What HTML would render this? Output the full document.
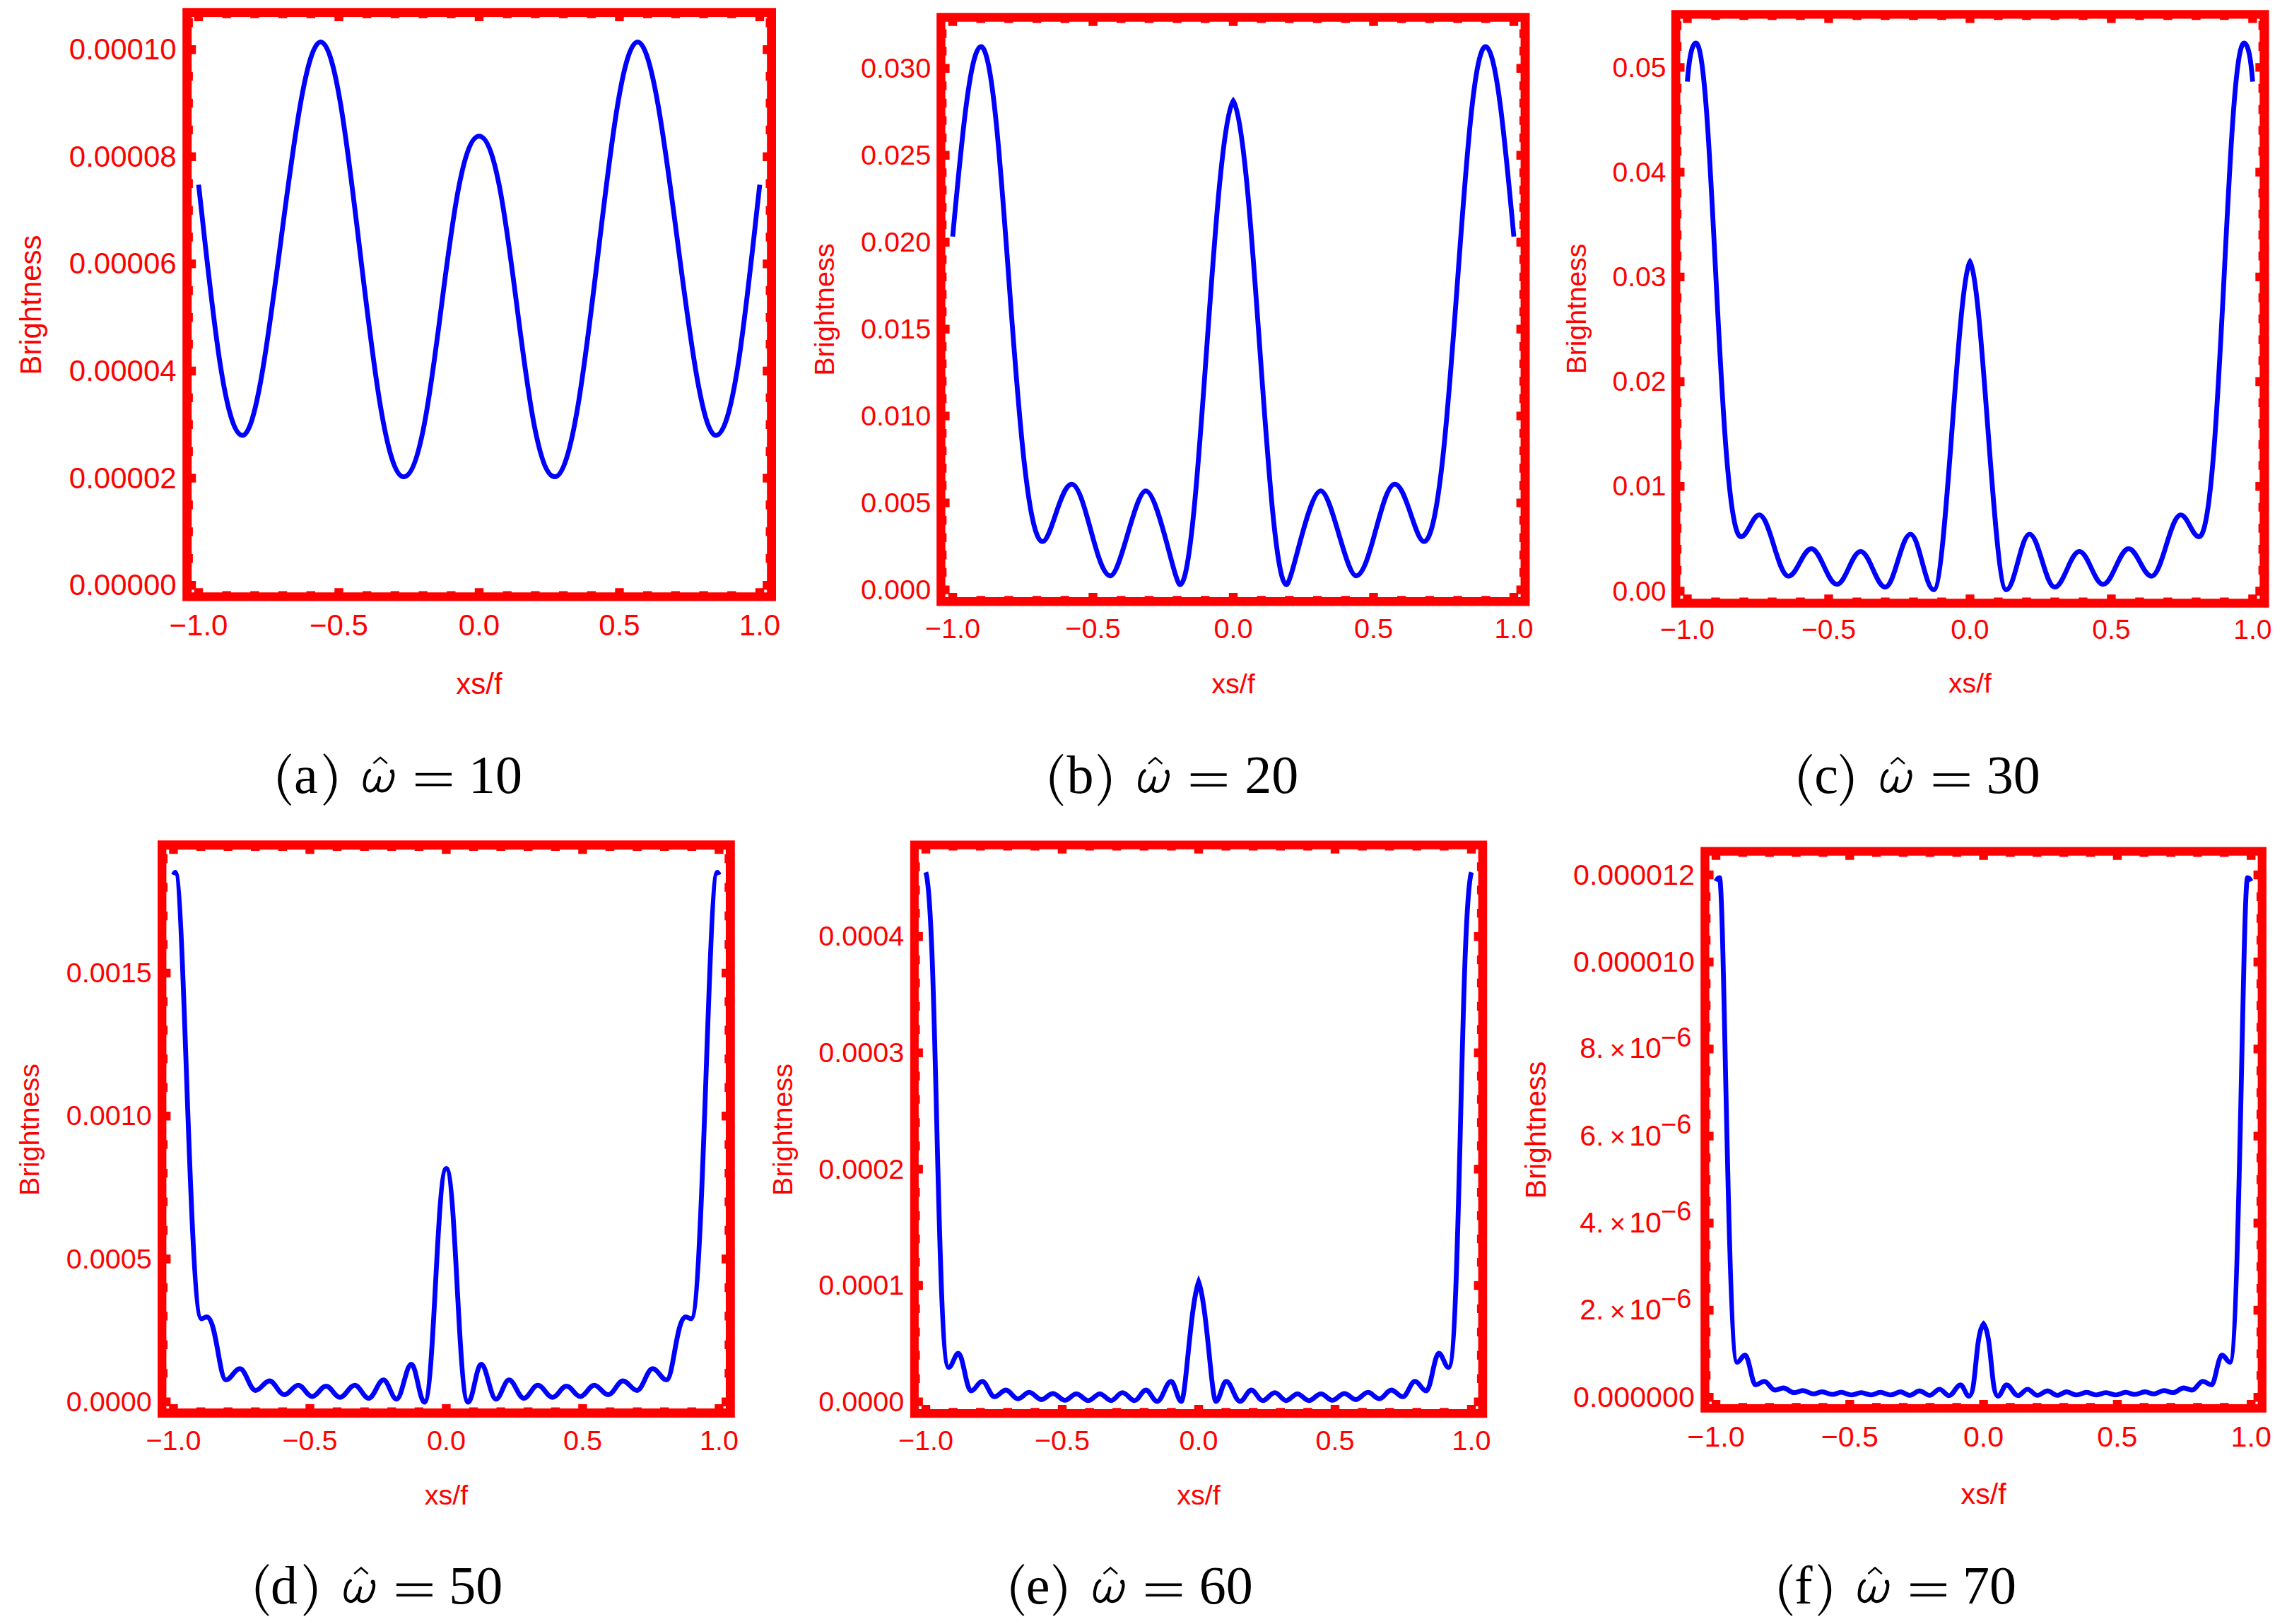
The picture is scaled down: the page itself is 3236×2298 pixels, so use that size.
<!DOCTYPE html>
<html><head><meta charset="utf-8"><style>
html,body{margin:0;padding:0;background:#fff;overflow:hidden}
svg{display:block}
.t{font-family:"Liberation Sans",sans-serif;font-size:42px;fill:#ff0000}
.s{font-family:"Liberation Serif",serif;fill:#000}
</style></head><body>
<svg width="3236" height="2298" viewBox="0 0 3236 2298" xmlns="http://www.w3.org/2000/svg">
<rect width="3236" height="2298" fill="#fff"/>
<path d="M258.2 11.2H1098V850.4H258.2Z M271.2 24V838.2H1085.2V24Z" fill="#ff0000" fill-rule="evenodd"/>
<path d="M274.8 832.2h12.4v7h-12.4ZM274.8 23h12.4v7h-12.4ZM473.3 832.2h12.4v7h-12.4ZM473.3 23h12.4v7h-12.4ZM671.8 832.2h12.4v7h-12.4ZM671.8 23h12.4v7h-12.4ZM870.3 832.2h12.4v7h-12.4ZM870.3 23h12.4v7h-12.4ZM1068.8 832.2h12.4v7h-12.4ZM1068.8 23h12.4v7h-12.4ZM270.2 822h7v12.4h-7ZM1079.2 822h7v12.4h-7ZM270.2 670.4h7v12.4h-7ZM1079.2 670.4h7v12.4h-7ZM270.2 518.8h7v12.4h-7ZM1079.2 518.8h7v12.4h-7ZM270.2 367.2h7v12.4h-7ZM1079.2 367.2h7v12.4h-7ZM270.2 215.6h7v12.4h-7ZM1079.2 215.6h7v12.4h-7ZM270.2 64h7v12.4h-7ZM1079.2 64h7v12.4h-7ZM314.5 836.5h12.4v2.7h-12.4ZM314.5 23h12.4v2.7h-12.4ZM354.2 836.5h12.4v2.7h-12.4ZM354.2 23h12.4v2.7h-12.4ZM393.9 836.5h12.4v2.7h-12.4ZM393.9 23h12.4v2.7h-12.4ZM433.6 836.5h12.4v2.7h-12.4ZM433.6 23h12.4v2.7h-12.4ZM513 836.5h12.4v2.7h-12.4ZM513 23h12.4v2.7h-12.4ZM552.7 836.5h12.4v2.7h-12.4ZM552.7 23h12.4v2.7h-12.4ZM592.4 836.5h12.4v2.7h-12.4ZM592.4 23h12.4v2.7h-12.4ZM632.1 836.5h12.4v2.7h-12.4ZM632.1 23h12.4v2.7h-12.4ZM711.5 836.5h12.4v2.7h-12.4ZM711.5 23h12.4v2.7h-12.4ZM751.2 836.5h12.4v2.7h-12.4ZM751.2 23h12.4v2.7h-12.4ZM790.9 836.5h12.4v2.7h-12.4ZM790.9 23h12.4v2.7h-12.4ZM830.6 836.5h12.4v2.7h-12.4ZM830.6 23h12.4v2.7h-12.4ZM910 836.5h12.4v2.7h-12.4ZM910 23h12.4v2.7h-12.4ZM949.7 836.5h12.4v2.7h-12.4ZM949.7 23h12.4v2.7h-12.4ZM989.4 836.5h12.4v2.7h-12.4ZM989.4 23h12.4v2.7h-12.4ZM1029.1 836.5h12.4v2.7h-12.4ZM1029.1 23h12.4v2.7h-12.4ZM270.2 784.1h2.7v12.4h-2.7ZM1083.5 784.1h2.7v12.4h-2.7ZM270.2 746.2h2.7v12.4h-2.7ZM1083.5 746.2h2.7v12.4h-2.7ZM270.2 708.3h2.7v12.4h-2.7ZM1083.5 708.3h2.7v12.4h-2.7ZM270.2 632.5h2.7v12.4h-2.7ZM1083.5 632.5h2.7v12.4h-2.7ZM270.2 594.6h2.7v12.4h-2.7ZM1083.5 594.6h2.7v12.4h-2.7ZM270.2 556.7h2.7v12.4h-2.7ZM1083.5 556.7h2.7v12.4h-2.7ZM270.2 480.9h2.7v12.4h-2.7ZM1083.5 480.9h2.7v12.4h-2.7ZM270.2 443h2.7v12.4h-2.7ZM1083.5 443h2.7v12.4h-2.7ZM270.2 405.1h2.7v12.4h-2.7ZM1083.5 405.1h2.7v12.4h-2.7ZM270.2 329.3h2.7v12.4h-2.7ZM1083.5 329.3h2.7v12.4h-2.7ZM270.2 291.4h2.7v12.4h-2.7ZM1083.5 291.4h2.7v12.4h-2.7ZM270.2 253.5h2.7v12.4h-2.7ZM1083.5 253.5h2.7v12.4h-2.7ZM270.2 177.7h2.7v12.4h-2.7ZM1083.5 177.7h2.7v12.4h-2.7ZM270.2 139.8h2.7v12.4h-2.7ZM1083.5 139.8h2.7v12.4h-2.7ZM270.2 101.9h2.7v12.4h-2.7ZM1083.5 101.9h2.7v12.4h-2.7ZM270.2 26.1h2.7v12.4h-2.7ZM1083.5 26.1h2.7v12.4h-2.7Z" fill="#ff0000"/>
<text x="249.64" y="842.27" text-anchor="end" class="t" style="font-size:42px">0.00000</text>
<text x="249.64" y="690.67" text-anchor="end" class="t" style="font-size:42px">0.00002</text>
<text x="249.64" y="539.07" text-anchor="end" class="t" style="font-size:42px">0.00004</text>
<text x="249.64" y="387.47" text-anchor="end" class="t" style="font-size:42px">0.00006</text>
<text x="249.64" y="235.87" text-anchor="end" class="t" style="font-size:42px">0.00008</text>
<text x="249.64" y="84.27" text-anchor="end" class="t" style="font-size:42px">0.00010</text>
<text x="281" y="899" text-anchor="middle" class="t" style="font-size:42px">−1.0</text>
<text x="479.5" y="899" text-anchor="middle" class="t" style="font-size:42px">−0.5</text>
<text x="678" y="899" text-anchor="middle" class="t" style="font-size:42px">0.0</text>
<text x="876.5" y="899" text-anchor="middle" class="t" style="font-size:42px">0.5</text>
<text x="1075" y="899" text-anchor="middle" class="t" style="font-size:42px">1.0</text>
<text x="678" y="982" text-anchor="middle" class="t" style="font-size:42px">xs/f</text>
<text transform="translate(58.4,431.6) rotate(-90)" text-anchor="middle" class="t" style="font-size:42px">Brightness</text>
<path d="M281.00 261.49C299.54 425.63 317.14 616.10 343.20 616.10C380.46 616.10 414.74 59.30 453.70 59.30C495.83 59.30 524.45 674.70 571.00 674.70C616.48 674.70 632.65 192.60 678.00 192.60C723.35 192.60 739.52 674.70 785.00 674.70C831.55 674.70 860.17 59.30 902.30 59.30C941.26 59.30 975.54 616.10 1012.80 616.10C1038.86 616.10 1056.46 425.63 1075.00 261.49" fill="none" stroke="#0000ff" stroke-width="6.8" stroke-linejoin="miter" stroke-miterlimit="10"/>
<path transform="translate(393.2,1121.8)" d="M17.4 -55.5C6.5 -45.5 0 -33 0 -18.6C0 -4.2 6.5 8.3 17.4 18.3L19.0 17.0C10.5 7.5 5.2 -4.7 5.2 -18.6C5.2 -32.5 10.5 -44.7 19.0 -54.2Z"/>
<path transform="translate(476.3,1121.8) scale(-1,1)" d="M17.4 -55.5C6.5 -45.5 0 -33 0 -18.6C0 -4.2 6.5 8.3 17.4 18.3L19.0 17.0C10.5 7.5 5.2 -4.7 5.2 -18.6C5.2 -32.5 10.5 -44.7 19.0 -54.2Z"/>
<text x="415.94" y="1121.8" class="s" font-size="76">a</text>
<g transform="translate(514,1121.8)"><path d="M9.04 -31.87C8.41 -31.23 6.26 -29.56 5.27 -27.99C4.27 -26.42 3.60 -24.30 3.05 -22.45C2.49 -20.60 2.16 -18.75 1.94 -16.91C1.72 -15.06 1.49 -13.21 1.72 -11.36C1.95 -9.52 2.09 -7.32 3.33 -5.82C4.56 -4.32 7.25 -2.59 9.15 -2.38C11.04 -2.18 13.21 -3.61 14.69 -4.60C16.17 -5.59 17.17 -7.10 18.02 -8.31C18.87 -9.53 19.49 -11.32 19.79 -11.92M23.12 -21.62C23.02 -21.20 22.81 -20.19 22.56 -19.12C22.31 -18.06 21.93 -16.63 21.62 -15.24C21.30 -13.86 20.89 -12.15 20.68 -10.81C20.46 -9.47 20.09 -8.41 20.34 -7.21C20.59 -6.01 21.13 -4.41 22.17 -3.60C23.22 -2.80 24.99 -2.38 26.61 -2.38C28.22 -2.38 30.26 -2.75 31.87 -3.60C33.49 -4.45 35.03 -5.82 36.31 -7.48C37.58 -9.15 38.66 -11.55 39.52 -13.58C40.38 -15.61 41.00 -17.74 41.46 -19.68C41.93 -21.62 42.25 -23.74 42.29 -25.22C42.34 -26.70 41.83 -27.99 41.74 -28.55" fill="none" stroke="#000" stroke-width="4.2" stroke-linecap="round" stroke-linejoin="round"/><circle cx="40.74" cy="-30.1" r="2.9"/></g>
<path d="M528.4 1080.3L538.1 1071.8L547.8 1080.3" fill="none" stroke="#000" stroke-width="2.5"/>
<rect x="588" y="1093.8" width="51" height="3.6"/>
<rect x="588" y="1108.8" width="51" height="3.6"/>
<text x="662.91" y="1121.8" class="s" font-size="76">10</text>
<path d="M1325.2 18.2H2164.5V857.5H1325.2Z M1337.6 30.8V845H2151.6V30.8Z" fill="#ff0000" fill-rule="evenodd"/>
<path d="M1341.8 839h12.4v7h-12.4ZM1341.8 29.8h12.4v7h-12.4ZM1540.3 839h12.4v7h-12.4ZM1540.3 29.8h12.4v7h-12.4ZM1738.8 839h12.4v7h-12.4ZM1738.8 29.8h12.4v7h-12.4ZM1937.3 839h12.4v7h-12.4ZM1937.3 29.8h12.4v7h-12.4ZM2135.8 839h12.4v7h-12.4ZM2135.8 29.8h12.4v7h-12.4ZM1336.6 828.4h7v12.4h-7ZM2145.6 828.4h7v12.4h-7ZM1336.6 705.43h7v12.4h-7ZM2145.6 705.43h7v12.4h-7ZM1336.6 582.47h7v12.4h-7ZM2145.6 582.47h7v12.4h-7ZM1336.6 459.5h7v12.4h-7ZM2145.6 459.5h7v12.4h-7ZM1336.6 336.53h7v12.4h-7ZM2145.6 336.53h7v12.4h-7ZM1336.6 213.57h7v12.4h-7ZM2145.6 213.57h7v12.4h-7ZM1336.6 90.6h7v12.4h-7ZM2145.6 90.6h7v12.4h-7ZM1381.5 843.3h12.4v2.7h-12.4ZM1381.5 29.8h12.4v2.7h-12.4ZM1421.2 843.3h12.4v2.7h-12.4ZM1421.2 29.8h12.4v2.7h-12.4ZM1460.9 843.3h12.4v2.7h-12.4ZM1460.9 29.8h12.4v2.7h-12.4ZM1500.6 843.3h12.4v2.7h-12.4ZM1500.6 29.8h12.4v2.7h-12.4ZM1580 843.3h12.4v2.7h-12.4ZM1580 29.8h12.4v2.7h-12.4ZM1619.7 843.3h12.4v2.7h-12.4ZM1619.7 29.8h12.4v2.7h-12.4ZM1659.4 843.3h12.4v2.7h-12.4ZM1659.4 29.8h12.4v2.7h-12.4ZM1699.1 843.3h12.4v2.7h-12.4ZM1699.1 29.8h12.4v2.7h-12.4ZM1778.5 843.3h12.4v2.7h-12.4ZM1778.5 29.8h12.4v2.7h-12.4ZM1818.2 843.3h12.4v2.7h-12.4ZM1818.2 29.8h12.4v2.7h-12.4ZM1857.9 843.3h12.4v2.7h-12.4ZM1857.9 29.8h12.4v2.7h-12.4ZM1897.6 843.3h12.4v2.7h-12.4ZM1897.6 29.8h12.4v2.7h-12.4ZM1977 843.3h12.4v2.7h-12.4ZM1977 29.8h12.4v2.7h-12.4ZM2016.7 843.3h12.4v2.7h-12.4ZM2016.7 29.8h12.4v2.7h-12.4ZM2056.4 843.3h12.4v2.7h-12.4ZM2056.4 29.8h12.4v2.7h-12.4ZM2096.1 843.3h12.4v2.7h-12.4ZM2096.1 29.8h12.4v2.7h-12.4ZM1336.6 803.81h2.7v12.4h-2.7ZM2149.9 803.81h2.7v12.4h-2.7ZM1336.6 779.21h2.7v12.4h-2.7ZM2149.9 779.21h2.7v12.4h-2.7ZM1336.6 754.62h2.7v12.4h-2.7ZM2149.9 754.62h2.7v12.4h-2.7ZM1336.6 730.03h2.7v12.4h-2.7ZM2149.9 730.03h2.7v12.4h-2.7ZM1336.6 680.84h2.7v12.4h-2.7ZM2149.9 680.84h2.7v12.4h-2.7ZM1336.6 656.25h2.7v12.4h-2.7ZM2149.9 656.25h2.7v12.4h-2.7ZM1336.6 631.65h2.7v12.4h-2.7ZM2149.9 631.65h2.7v12.4h-2.7ZM1336.6 607.06h2.7v12.4h-2.7ZM2149.9 607.06h2.7v12.4h-2.7ZM1336.6 557.87h2.7v12.4h-2.7ZM2149.9 557.87h2.7v12.4h-2.7ZM1336.6 533.28h2.7v12.4h-2.7ZM2149.9 533.28h2.7v12.4h-2.7ZM1336.6 508.69h2.7v12.4h-2.7ZM2149.9 508.69h2.7v12.4h-2.7ZM1336.6 484.09h2.7v12.4h-2.7ZM2149.9 484.09h2.7v12.4h-2.7ZM1336.6 434.91h2.7v12.4h-2.7ZM2149.9 434.91h2.7v12.4h-2.7ZM1336.6 410.31h2.7v12.4h-2.7ZM2149.9 410.31h2.7v12.4h-2.7ZM1336.6 385.72h2.7v12.4h-2.7ZM2149.9 385.72h2.7v12.4h-2.7ZM1336.6 361.13h2.7v12.4h-2.7ZM2149.9 361.13h2.7v12.4h-2.7ZM1336.6 311.94h2.7v12.4h-2.7ZM2149.9 311.94h2.7v12.4h-2.7ZM1336.6 287.35h2.7v12.4h-2.7ZM2149.9 287.35h2.7v12.4h-2.7ZM1336.6 262.75h2.7v12.4h-2.7ZM2149.9 262.75h2.7v12.4h-2.7ZM1336.6 238.16h2.7v12.4h-2.7ZM2149.9 238.16h2.7v12.4h-2.7ZM1336.6 188.97h2.7v12.4h-2.7ZM2149.9 188.97h2.7v12.4h-2.7ZM1336.6 164.38h2.7v12.4h-2.7ZM2149.9 164.38h2.7v12.4h-2.7ZM1336.6 139.79h2.7v12.4h-2.7ZM2149.9 139.79h2.7v12.4h-2.7ZM1336.6 115.19h2.7v12.4h-2.7ZM2149.9 115.19h2.7v12.4h-2.7ZM1336.6 66.01h2.7v12.4h-2.7ZM2149.9 66.01h2.7v12.4h-2.7ZM1336.6 41.41h2.7v12.4h-2.7ZM2149.9 41.41h2.7v12.4h-2.7Z" fill="#ff0000"/>
<text x="1317.25" y="847.9" text-anchor="end" class="t" style="font-size:39.7px">0.000</text>
<text x="1317.25" y="724.93" text-anchor="end" class="t" style="font-size:39.7px">0.005</text>
<text x="1317.25" y="601.97" text-anchor="end" class="t" style="font-size:39.7px">0.010</text>
<text x="1317.25" y="479" text-anchor="end" class="t" style="font-size:39.7px">0.015</text>
<text x="1317.25" y="356.03" text-anchor="end" class="t" style="font-size:39.7px">0.020</text>
<text x="1317.25" y="233.07" text-anchor="end" class="t" style="font-size:39.7px">0.025</text>
<text x="1317.25" y="110.1" text-anchor="end" class="t" style="font-size:39.7px">0.030</text>
<text x="1348" y="903" text-anchor="middle" class="t" style="font-size:39.7px">−1.0</text>
<text x="1546.5" y="903" text-anchor="middle" class="t" style="font-size:39.7px">−0.5</text>
<text x="1745" y="903" text-anchor="middle" class="t" style="font-size:39.7px">0.0</text>
<text x="1943.5" y="903" text-anchor="middle" class="t" style="font-size:39.7px">0.5</text>
<text x="2142" y="903" text-anchor="middle" class="t" style="font-size:39.7px">1.0</text>
<text x="1745" y="980.8" text-anchor="middle" class="t" style="font-size:39.7px">xs/f</text>
<text transform="translate(1180.4,438.1) rotate(-90)" text-anchor="middle" class="t" style="font-size:39.7px">Brightness</text>
<path d="M1348.00 334.72C1360.46 200.44 1372.91 66.00 1388.00 66.00C1420.45 66.00 1435.92 766.40 1475.10 766.40C1487.23 766.40 1500.55 685.20 1516.40 685.20C1535.31 685.20 1551.13 814.80 1571.10 814.80C1585.73 814.80 1605.86 694.70 1621.30 694.70C1638.16 694.70 1662.03 827.30 1669.70 827.30C1697.10 827.30 1716.27 185.90 1745.00 142.80C1773.73 185.90 1792.90 827.30 1820.30 827.30C1827.97 827.30 1851.84 694.70 1868.70 694.70C1884.14 694.70 1904.27 814.80 1918.90 814.80C1938.87 814.80 1954.69 685.20 1973.60 685.20C1989.45 685.20 2002.77 766.40 2014.90 766.40C2054.08 766.40 2069.55 66.00 2102.00 66.00C2117.09 66.00 2129.54 200.44 2142.00 334.72" fill="none" stroke="#0000ff" stroke-width="6.8" stroke-linejoin="miter" stroke-miterlimit="10"/>
<path transform="translate(1485.6,1122.3)" d="M17.4 -55.5C6.5 -45.5 0 -33 0 -18.6C0 -4.2 6.5 8.3 17.4 18.3L19.0 17.0C10.5 7.5 5.2 -4.7 5.2 -18.6C5.2 -32.5 10.5 -44.7 19.0 -54.2Z"/>
<path transform="translate(1572,1122.3) scale(-1,1)" d="M17.4 -55.5C6.5 -45.5 0 -33 0 -18.6C0 -4.2 6.5 8.3 17.4 18.3L19.0 17.0C10.5 7.5 5.2 -4.7 5.2 -18.6C5.2 -32.5 10.5 -44.7 19.0 -54.2Z"/>
<text x="1509.6" y="1122.3" class="s" font-size="76">b</text>
<g transform="translate(1610.6,1122.3)"><path d="M9.04 -31.87C8.41 -31.23 6.26 -29.56 5.27 -27.99C4.27 -26.42 3.60 -24.30 3.05 -22.45C2.49 -20.60 2.16 -18.75 1.94 -16.91C1.72 -15.06 1.49 -13.21 1.72 -11.36C1.95 -9.52 2.09 -7.32 3.33 -5.82C4.56 -4.32 7.25 -2.59 9.15 -2.38C11.04 -2.18 13.21 -3.61 14.69 -4.60C16.17 -5.59 17.17 -7.10 18.02 -8.31C18.87 -9.53 19.49 -11.32 19.79 -11.92M23.12 -21.62C23.02 -21.20 22.81 -20.19 22.56 -19.12C22.31 -18.06 21.93 -16.63 21.62 -15.24C21.30 -13.86 20.89 -12.15 20.68 -10.81C20.46 -9.47 20.09 -8.41 20.34 -7.21C20.59 -6.01 21.13 -4.41 22.17 -3.60C23.22 -2.80 24.99 -2.38 26.61 -2.38C28.22 -2.38 30.26 -2.75 31.87 -3.60C33.49 -4.45 35.03 -5.82 36.31 -7.48C37.58 -9.15 38.66 -11.55 39.52 -13.58C40.38 -15.61 41.00 -17.74 41.46 -19.68C41.93 -21.62 42.25 -23.74 42.29 -25.22C42.34 -26.70 41.83 -27.99 41.74 -28.55" fill="none" stroke="#000" stroke-width="4.2" stroke-linecap="round" stroke-linejoin="round"/><circle cx="40.74" cy="-30.1" r="2.9"/></g>
<path d="M1625 1080.8L1634.7 1072.3L1644.4 1080.8" fill="none" stroke="#000" stroke-width="2.5"/>
<rect x="1684.7" y="1094.3" width="51" height="3.6"/>
<rect x="1684.7" y="1109.3" width="51" height="3.6"/>
<text x="1761.16" y="1122.3" class="s" font-size="76">20</text>
<path d="M2364.8 14.2H3210.6V859.7H2364.8Z M2377.5 26.5V847.2H3197.3V26.5Z" fill="#ff0000" fill-rule="evenodd"/>
<path d="M2381.3 841.2h12.4v7h-12.4ZM2381.3 25.5h12.4v7h-12.4ZM2581.28 841.2h12.4v7h-12.4ZM2581.28 25.5h12.4v7h-12.4ZM2781.25 841.2h12.4v7h-12.4ZM2781.25 25.5h12.4v7h-12.4ZM2981.23 841.2h12.4v7h-12.4ZM2981.23 25.5h12.4v7h-12.4ZM3181.2 841.2h12.4v7h-12.4ZM3181.2 25.5h12.4v7h-12.4ZM2376.5 830.3h7v12.4h-7ZM3191.3 830.3h7v12.4h-7ZM2376.5 682.08h7v12.4h-7ZM3191.3 682.08h7v12.4h-7ZM2376.5 533.86h7v12.4h-7ZM3191.3 533.86h7v12.4h-7ZM2376.5 385.64h7v12.4h-7ZM3191.3 385.64h7v12.4h-7ZM2376.5 237.42h7v12.4h-7ZM3191.3 237.42h7v12.4h-7ZM2376.5 89.2h7v12.4h-7ZM3191.3 89.2h7v12.4h-7ZM2421.3 845.5h12.4v2.7h-12.4ZM2421.3 25.5h12.4v2.7h-12.4ZM2461.29 845.5h12.4v2.7h-12.4ZM2461.29 25.5h12.4v2.7h-12.4ZM2501.29 845.5h12.4v2.7h-12.4ZM2501.29 25.5h12.4v2.7h-12.4ZM2541.28 845.5h12.4v2.7h-12.4ZM2541.28 25.5h12.4v2.7h-12.4ZM2621.27 845.5h12.4v2.7h-12.4ZM2621.27 25.5h12.4v2.7h-12.4ZM2661.27 845.5h12.4v2.7h-12.4ZM2661.27 25.5h12.4v2.7h-12.4ZM2701.26 845.5h12.4v2.7h-12.4ZM2701.26 25.5h12.4v2.7h-12.4ZM2741.26 845.5h12.4v2.7h-12.4ZM2741.26 25.5h12.4v2.7h-12.4ZM2821.25 845.5h12.4v2.7h-12.4ZM2821.25 25.5h12.4v2.7h-12.4ZM2861.24 845.5h12.4v2.7h-12.4ZM2861.24 25.5h12.4v2.7h-12.4ZM2901.24 845.5h12.4v2.7h-12.4ZM2901.24 25.5h12.4v2.7h-12.4ZM2941.23 845.5h12.4v2.7h-12.4ZM2941.23 25.5h12.4v2.7h-12.4ZM3021.22 845.5h12.4v2.7h-12.4ZM3021.22 25.5h12.4v2.7h-12.4ZM3061.22 845.5h12.4v2.7h-12.4ZM3061.22 25.5h12.4v2.7h-12.4ZM3101.21 845.5h12.4v2.7h-12.4ZM3101.21 25.5h12.4v2.7h-12.4ZM3141.21 845.5h12.4v2.7h-12.4ZM3141.21 25.5h12.4v2.7h-12.4ZM2376.5 800.66h2.7v12.4h-2.7ZM3195.6 800.66h2.7v12.4h-2.7ZM2376.5 771.01h2.7v12.4h-2.7ZM3195.6 771.01h2.7v12.4h-2.7ZM2376.5 741.37h2.7v12.4h-2.7ZM3195.6 741.37h2.7v12.4h-2.7ZM2376.5 711.72h2.7v12.4h-2.7ZM3195.6 711.72h2.7v12.4h-2.7ZM2376.5 652.44h2.7v12.4h-2.7ZM3195.6 652.44h2.7v12.4h-2.7ZM2376.5 622.79h2.7v12.4h-2.7ZM3195.6 622.79h2.7v12.4h-2.7ZM2376.5 593.15h2.7v12.4h-2.7ZM3195.6 593.15h2.7v12.4h-2.7ZM2376.5 563.5h2.7v12.4h-2.7ZM3195.6 563.5h2.7v12.4h-2.7ZM2376.5 504.22h2.7v12.4h-2.7ZM3195.6 504.22h2.7v12.4h-2.7ZM2376.5 474.57h2.7v12.4h-2.7ZM3195.6 474.57h2.7v12.4h-2.7ZM2376.5 444.93h2.7v12.4h-2.7ZM3195.6 444.93h2.7v12.4h-2.7ZM2376.5 415.28h2.7v12.4h-2.7ZM3195.6 415.28h2.7v12.4h-2.7ZM2376.5 356h2.7v12.4h-2.7ZM3195.6 356h2.7v12.4h-2.7ZM2376.5 326.35h2.7v12.4h-2.7ZM3195.6 326.35h2.7v12.4h-2.7ZM2376.5 296.71h2.7v12.4h-2.7ZM3195.6 296.71h2.7v12.4h-2.7ZM2376.5 267.06h2.7v12.4h-2.7ZM3195.6 267.06h2.7v12.4h-2.7ZM2376.5 207.78h2.7v12.4h-2.7ZM3195.6 207.78h2.7v12.4h-2.7ZM2376.5 178.13h2.7v12.4h-2.7ZM3195.6 178.13h2.7v12.4h-2.7ZM2376.5 148.49h2.7v12.4h-2.7ZM3195.6 148.49h2.7v12.4h-2.7ZM2376.5 118.84h2.7v12.4h-2.7ZM3195.6 118.84h2.7v12.4h-2.7ZM2376.5 59.56h2.7v12.4h-2.7ZM3195.6 59.56h2.7v12.4h-2.7ZM2376.5 29.91h2.7v12.4h-2.7ZM3195.6 29.91h2.7v12.4h-2.7Z" fill="#ff0000"/>
<text x="2357.52" y="849.6" text-anchor="end" class="t" style="font-size:39.1px">0.00</text>
<text x="2357.52" y="701.38" text-anchor="end" class="t" style="font-size:39.1px">0.01</text>
<text x="2357.52" y="553.16" text-anchor="end" class="t" style="font-size:39.1px">0.02</text>
<text x="2357.52" y="404.94" text-anchor="end" class="t" style="font-size:39.1px">0.03</text>
<text x="2357.52" y="256.72" text-anchor="end" class="t" style="font-size:39.1px">0.04</text>
<text x="2357.52" y="108.5" text-anchor="end" class="t" style="font-size:39.1px">0.05</text>
<text x="2387.5" y="904" text-anchor="middle" class="t" style="font-size:39.1px">−1.0</text>
<text x="2587.47" y="904" text-anchor="middle" class="t" style="font-size:39.1px">−0.5</text>
<text x="2787.45" y="904" text-anchor="middle" class="t" style="font-size:39.1px">0.0</text>
<text x="2987.43" y="904" text-anchor="middle" class="t" style="font-size:39.1px">0.5</text>
<text x="3187.4" y="904" text-anchor="middle" class="t" style="font-size:39.1px">1.0</text>
<text x="2787.45" y="980.3" text-anchor="middle" class="t" style="font-size:39.1px">xs/f</text>
<text transform="translate(2244,437) rotate(-90)" text-anchor="middle" class="t" style="font-size:39.1px">Brightness</text>
<path d="M2387.50 115.51C2390.03 83.51 2393.71 61.00 2399.70 61.00C2424.31 61.00 2431.63 759.70 2463.30 759.70C2472.70 759.70 2479.80 728.70 2489.20 728.70C2504.23 728.70 2515.57 815.30 2530.60 815.30C2542.32 815.30 2551.18 776.50 2562.90 776.50C2576.04 776.50 2585.96 826.90 2599.10 826.90C2611.30 826.90 2620.50 780.40 2632.70 780.40C2645.37 780.40 2654.93 830.80 2667.60 830.80C2680.56 830.80 2690.34 755.80 2703.30 755.80C2715.24 755.80 2724.26 834.70 2736.20 834.70C2753.55 834.70 2769.76 396.83 2787.45 370.30C2805.14 396.83 2821.35 834.70 2838.70 834.70C2850.64 834.70 2859.66 755.80 2871.60 755.80C2884.56 755.80 2894.34 830.80 2907.30 830.80C2919.97 830.80 2929.53 780.40 2942.20 780.40C2954.40 780.40 2963.60 826.90 2975.80 826.90C2988.94 826.90 2998.86 776.50 3012.00 776.50C3023.72 776.50 3032.58 815.30 3044.30 815.30C3059.33 815.30 3070.67 728.70 3085.70 728.70C3095.10 728.70 3102.20 759.70 3111.60 759.70C3143.27 759.70 3150.59 61.00 3175.20 61.00C3181.19 61.00 3184.87 83.51 3187.40 115.51" fill="none" stroke="#0000ff" stroke-width="6.8" stroke-linejoin="miter" stroke-miterlimit="10"/>
<path transform="translate(2545.2,1122.3)" d="M17.4 -55.5C6.5 -45.5 0 -33 0 -18.6C0 -4.2 6.5 8.3 17.4 18.3L19.0 17.0C10.5 7.5 5.2 -4.7 5.2 -18.6C5.2 -32.5 10.5 -44.7 19.0 -54.2Z"/>
<path transform="translate(2622.2,1122.3) scale(-1,1)" d="M17.4 -55.5C6.5 -45.5 0 -33 0 -18.6C0 -4.2 6.5 8.3 17.4 18.3L19.0 17.0C10.5 7.5 5.2 -4.7 5.2 -18.6C5.2 -32.5 10.5 -44.7 19.0 -54.2Z"/>
<text x="2567.31" y="1122.3" class="s" font-size="76">c</text>
<g transform="translate(2661.2,1122.3)"><path d="M9.04 -31.87C8.41 -31.23 6.26 -29.56 5.27 -27.99C4.27 -26.42 3.60 -24.30 3.05 -22.45C2.49 -20.60 2.16 -18.75 1.94 -16.91C1.72 -15.06 1.49 -13.21 1.72 -11.36C1.95 -9.52 2.09 -7.32 3.33 -5.82C4.56 -4.32 7.25 -2.59 9.15 -2.38C11.04 -2.18 13.21 -3.61 14.69 -4.60C16.17 -5.59 17.17 -7.10 18.02 -8.31C18.87 -9.53 19.49 -11.32 19.79 -11.92M23.12 -21.62C23.02 -21.20 22.81 -20.19 22.56 -19.12C22.31 -18.06 21.93 -16.63 21.62 -15.24C21.30 -13.86 20.89 -12.15 20.68 -10.81C20.46 -9.47 20.09 -8.41 20.34 -7.21C20.59 -6.01 21.13 -4.41 22.17 -3.60C23.22 -2.80 24.99 -2.38 26.61 -2.38C28.22 -2.38 30.26 -2.75 31.87 -3.60C33.49 -4.45 35.03 -5.82 36.31 -7.48C37.58 -9.15 38.66 -11.55 39.52 -13.58C40.38 -15.61 41.00 -17.74 41.46 -19.68C41.93 -21.62 42.25 -23.74 42.29 -25.22C42.34 -26.70 41.83 -27.99 41.74 -28.55" fill="none" stroke="#000" stroke-width="4.2" stroke-linecap="round" stroke-linejoin="round"/><circle cx="40.74" cy="-30.1" r="2.9"/></g>
<path d="M2675.6 1080.8L2685.3 1072.3L2695 1080.8" fill="none" stroke="#000" stroke-width="2.5"/>
<rect x="2735.7" y="1094.3" width="50.9" height="3.6"/>
<rect x="2735.7" y="1109.3" width="50.9" height="3.6"/>
<text x="2810.85" y="1122.3" class="s" font-size="76">30</text>
<path d="M223 1189.2H1039.8V2005.9H223Z M235.4 1202.3V1993.1H1027V1202.3Z" fill="#ff0000" fill-rule="evenodd"/>
<path d="M239.3 1987.1h12.4v7h-12.4ZM239.3 1201.3h12.4v7h-12.4ZM432.28 1987.1h12.4v7h-12.4ZM432.28 1201.3h12.4v7h-12.4ZM625.25 1987.1h12.4v7h-12.4ZM625.25 1201.3h12.4v7h-12.4ZM818.22 1987.1h12.4v7h-12.4ZM818.22 1201.3h12.4v7h-12.4ZM1011.2 1987.1h12.4v7h-12.4ZM1011.2 1201.3h12.4v7h-12.4ZM234.4 1977.6h7v12.4h-7ZM1021 1977.6h7v12.4h-7ZM234.4 1775.3h7v12.4h-7ZM1021 1775.3h7v12.4h-7ZM234.4 1573h7v12.4h-7ZM1021 1573h7v12.4h-7ZM234.4 1370.7h7v12.4h-7ZM1021 1370.7h7v12.4h-7ZM277.89 1991.4h12.4v2.7h-12.4ZM277.89 1201.3h12.4v2.7h-12.4ZM316.49 1991.4h12.4v2.7h-12.4ZM316.49 1201.3h12.4v2.7h-12.4ZM355.09 1991.4h12.4v2.7h-12.4ZM355.09 1201.3h12.4v2.7h-12.4ZM393.68 1991.4h12.4v2.7h-12.4ZM393.68 1201.3h12.4v2.7h-12.4ZM470.87 1991.4h12.4v2.7h-12.4ZM470.87 1201.3h12.4v2.7h-12.4ZM509.46 1991.4h12.4v2.7h-12.4ZM509.46 1201.3h12.4v2.7h-12.4ZM548.06 1991.4h12.4v2.7h-12.4ZM548.06 1201.3h12.4v2.7h-12.4ZM586.65 1991.4h12.4v2.7h-12.4ZM586.65 1201.3h12.4v2.7h-12.4ZM663.85 1991.4h12.4v2.7h-12.4ZM663.85 1201.3h12.4v2.7h-12.4ZM702.44 1991.4h12.4v2.7h-12.4ZM702.44 1201.3h12.4v2.7h-12.4ZM741.03 1991.4h12.4v2.7h-12.4ZM741.03 1201.3h12.4v2.7h-12.4ZM779.63 1991.4h12.4v2.7h-12.4ZM779.63 1201.3h12.4v2.7h-12.4ZM856.82 1991.4h12.4v2.7h-12.4ZM856.82 1201.3h12.4v2.7h-12.4ZM895.41 1991.4h12.4v2.7h-12.4ZM895.41 1201.3h12.4v2.7h-12.4ZM934.01 1991.4h12.4v2.7h-12.4ZM934.01 1201.3h12.4v2.7h-12.4ZM972.6 1991.4h12.4v2.7h-12.4ZM972.6 1201.3h12.4v2.7h-12.4ZM234.4 1937.14h2.7v12.4h-2.7ZM1025.3 1937.14h2.7v12.4h-2.7ZM234.4 1896.68h2.7v12.4h-2.7ZM1025.3 1896.68h2.7v12.4h-2.7ZM234.4 1856.22h2.7v12.4h-2.7ZM1025.3 1856.22h2.7v12.4h-2.7ZM234.4 1815.76h2.7v12.4h-2.7ZM1025.3 1815.76h2.7v12.4h-2.7ZM234.4 1734.84h2.7v12.4h-2.7ZM1025.3 1734.84h2.7v12.4h-2.7ZM234.4 1694.38h2.7v12.4h-2.7ZM1025.3 1694.38h2.7v12.4h-2.7ZM234.4 1653.92h2.7v12.4h-2.7ZM1025.3 1653.92h2.7v12.4h-2.7ZM234.4 1613.46h2.7v12.4h-2.7ZM1025.3 1613.46h2.7v12.4h-2.7ZM234.4 1532.54h2.7v12.4h-2.7ZM1025.3 1532.54h2.7v12.4h-2.7ZM234.4 1492.08h2.7v12.4h-2.7ZM1025.3 1492.08h2.7v12.4h-2.7ZM234.4 1451.62h2.7v12.4h-2.7ZM1025.3 1451.62h2.7v12.4h-2.7ZM234.4 1411.16h2.7v12.4h-2.7ZM1025.3 1411.16h2.7v12.4h-2.7ZM234.4 1330.24h2.7v12.4h-2.7ZM1025.3 1330.24h2.7v12.4h-2.7ZM234.4 1289.78h2.7v12.4h-2.7ZM1025.3 1289.78h2.7v12.4h-2.7ZM234.4 1249.32h2.7v12.4h-2.7ZM1025.3 1249.32h2.7v12.4h-2.7ZM234.4 1208.86h2.7v12.4h-2.7ZM1025.3 1208.86h2.7v12.4h-2.7Z" fill="#ff0000"/>
<text x="214.74" y="1997.07" text-anchor="end" class="t" style="font-size:39.6px">0.0000</text>
<text x="214.74" y="1794.77" text-anchor="end" class="t" style="font-size:39.6px">0.0005</text>
<text x="214.74" y="1592.47" text-anchor="end" class="t" style="font-size:39.6px">0.0010</text>
<text x="214.74" y="1390.17" text-anchor="end" class="t" style="font-size:39.6px">0.0015</text>
<text x="245.5" y="2051.6" text-anchor="middle" class="t" style="font-size:39.6px">−1.0</text>
<text x="438.48" y="2051.6" text-anchor="middle" class="t" style="font-size:39.6px">−0.5</text>
<text x="631.45" y="2051.6" text-anchor="middle" class="t" style="font-size:39.6px">0.0</text>
<text x="824.42" y="2051.6" text-anchor="middle" class="t" style="font-size:39.6px">0.5</text>
<text x="1017.4" y="2051.6" text-anchor="middle" class="t" style="font-size:39.6px">1.0</text>
<text x="631.45" y="2129.3" text-anchor="middle" class="t" style="font-size:39.6px">xs/f</text>
<text transform="translate(55.4,1598.4) rotate(-90)" text-anchor="middle" class="t" style="font-size:39.6px">Brightness</text>
<path d="M245.50 1237.95C246.29 1235.94 247.11 1234.50 248.00 1234.50C260.70 1234.50 268.03 1866.00 285.00 1866.00C287.72 1866.00 289.78 1863.50 292.50 1863.50C305.87 1863.50 310.36 1952.70 319.70 1952.70C326.85 1952.70 332.25 1936.70 339.40 1936.70C347.46 1936.70 353.54 1967.50 361.60 1967.50C368.75 1967.50 374.15 1954.00 381.30 1954.00C388.92 1954.00 394.68 1973.60 402.30 1973.60C409.45 1973.60 414.85 1960.10 422.00 1960.10C429.15 1960.10 434.55 1976.10 441.70 1976.10C448.85 1976.10 454.25 1961.30 461.40 1961.30C468.55 1961.30 473.95 1977.30 481.10 1977.30C488.69 1977.30 494.41 1960.10 502.00 1960.10C509.15 1960.10 514.55 1978.60 521.70 1978.60C529.32 1978.60 535.08 1952.70 542.70 1952.70C549.38 1952.70 554.42 1979.80 561.10 1979.80C568.72 1979.80 574.48 1930.50 582.10 1930.50C588.78 1930.50 593.82 1984.20 600.50 1984.20C614.26 1984.20 618.10 1653.50 631.45 1653.50C644.80 1653.50 648.64 1984.20 662.40 1984.20C669.08 1984.20 674.12 1930.50 680.80 1930.50C688.42 1930.50 694.18 1979.80 701.80 1979.80C708.48 1979.80 713.52 1952.70 720.20 1952.70C727.82 1952.70 733.58 1978.60 741.20 1978.60C748.35 1978.60 753.75 1960.10 760.90 1960.10C768.49 1960.10 774.21 1977.30 781.80 1977.30C788.95 1977.30 794.35 1961.30 801.50 1961.30C808.65 1961.30 814.05 1976.10 821.20 1976.10C828.35 1976.10 833.75 1960.10 840.90 1960.10C848.05 1960.10 853.45 1973.60 860.60 1973.60C868.22 1973.60 873.98 1954.00 881.60 1954.00C888.75 1954.00 894.15 1967.50 901.30 1967.50C909.36 1967.50 915.44 1936.70 923.50 1936.70C930.65 1936.70 936.05 1952.70 943.20 1952.70C952.54 1952.70 957.03 1863.50 970.40 1863.50C973.12 1863.50 975.18 1866.00 977.90 1866.00C994.87 1866.00 1002.20 1234.50 1014.90 1234.50C1015.79 1234.50 1016.61 1235.94 1017.40 1237.95" fill="none" stroke="#0000ff" stroke-width="6.8" stroke-linejoin="miter" stroke-miterlimit="10"/>
<path transform="translate(361.7,2268.5)" d="M17.4 -55.5C6.5 -45.5 0 -33 0 -18.6C0 -4.2 6.5 8.3 17.4 18.3L19.0 17.0C10.5 7.5 5.2 -4.7 5.2 -18.6C5.2 -32.5 10.5 -44.7 19.0 -54.2Z"/>
<path transform="translate(448.3,2268.5) scale(-1,1)" d="M17.4 -55.5C6.5 -45.5 0 -33 0 -18.6C0 -4.2 6.5 8.3 17.4 18.3L19.0 17.0C10.5 7.5 5.2 -4.7 5.2 -18.6C5.2 -32.5 10.5 -44.7 19.0 -54.2Z"/>
<text x="383.06" y="2268.5" class="s" font-size="76">d</text>
<g transform="translate(486.8,2268.5)"><path d="M9.04 -31.87C8.41 -31.23 6.26 -29.56 5.27 -27.99C4.27 -26.42 3.60 -24.30 3.05 -22.45C2.49 -20.60 2.16 -18.75 1.94 -16.91C1.72 -15.06 1.49 -13.21 1.72 -11.36C1.95 -9.52 2.09 -7.32 3.33 -5.82C4.56 -4.32 7.25 -2.59 9.15 -2.38C11.04 -2.18 13.21 -3.61 14.69 -4.60C16.17 -5.59 17.17 -7.10 18.02 -8.31C18.87 -9.53 19.49 -11.32 19.79 -11.92M23.12 -21.62C23.02 -21.20 22.81 -20.19 22.56 -19.12C22.31 -18.06 21.93 -16.63 21.62 -15.24C21.30 -13.86 20.89 -12.15 20.68 -10.81C20.46 -9.47 20.09 -8.41 20.34 -7.21C20.59 -6.01 21.13 -4.41 22.17 -3.60C23.22 -2.80 24.99 -2.38 26.61 -2.38C28.22 -2.38 30.26 -2.75 31.87 -3.60C33.49 -4.45 35.03 -5.82 36.31 -7.48C37.58 -9.15 38.66 -11.55 39.52 -13.58C40.38 -15.61 41.00 -17.74 41.46 -19.68C41.93 -21.62 42.25 -23.74 42.29 -25.22C42.34 -26.70 41.83 -27.99 41.74 -28.55" fill="none" stroke="#000" stroke-width="4.2" stroke-linecap="round" stroke-linejoin="round"/><circle cx="40.74" cy="-30.1" r="2.9"/></g>
<path d="M501.2 2227L510.9 2218.5L520.6 2227" fill="none" stroke="#000" stroke-width="2.5"/>
<rect x="560.9" y="2240.5" width="50.9" height="3.6"/>
<rect x="560.9" y="2255.5" width="50.9" height="3.6"/>
<text x="635.29" y="2268.5" class="s" font-size="76">50</text>
<path d="M1287.9 1189.4H2104.2V2006.2H1287.9Z M1299.9 1201.7V1993.9H2091.6V1201.7Z" fill="#ff0000" fill-rule="evenodd"/>
<path d="M1303.8 1987.9h12.4v7h-12.4ZM1303.8 1200.7h12.4v7h-12.4ZM1496.8 1987.9h12.4v7h-12.4ZM1496.8 1200.7h12.4v7h-12.4ZM1689.8 1987.9h12.4v7h-12.4ZM1689.8 1200.7h12.4v7h-12.4ZM1882.8 1987.9h12.4v7h-12.4ZM1882.8 1200.7h12.4v7h-12.4ZM2075.8 1987.9h12.4v7h-12.4ZM2075.8 1200.7h12.4v7h-12.4ZM1298.9 1977.4h7v12.4h-7ZM2085.6 1977.4h7v12.4h-7ZM1298.9 1812.8h7v12.4h-7ZM2085.6 1812.8h7v12.4h-7ZM1298.9 1648.2h7v12.4h-7ZM2085.6 1648.2h7v12.4h-7ZM1298.9 1483.6h7v12.4h-7ZM2085.6 1483.6h7v12.4h-7ZM1298.9 1319h7v12.4h-7ZM2085.6 1319h7v12.4h-7ZM1342.4 1992.2h12.4v2.7h-12.4ZM1342.4 1200.7h12.4v2.7h-12.4ZM1381 1992.2h12.4v2.7h-12.4ZM1381 1200.7h12.4v2.7h-12.4ZM1419.6 1992.2h12.4v2.7h-12.4ZM1419.6 1200.7h12.4v2.7h-12.4ZM1458.2 1992.2h12.4v2.7h-12.4ZM1458.2 1200.7h12.4v2.7h-12.4ZM1535.4 1992.2h12.4v2.7h-12.4ZM1535.4 1200.7h12.4v2.7h-12.4ZM1574 1992.2h12.4v2.7h-12.4ZM1574 1200.7h12.4v2.7h-12.4ZM1612.6 1992.2h12.4v2.7h-12.4ZM1612.6 1200.7h12.4v2.7h-12.4ZM1651.2 1992.2h12.4v2.7h-12.4ZM1651.2 1200.7h12.4v2.7h-12.4ZM1728.4 1992.2h12.4v2.7h-12.4ZM1728.4 1200.7h12.4v2.7h-12.4ZM1767 1992.2h12.4v2.7h-12.4ZM1767 1200.7h12.4v2.7h-12.4ZM1805.6 1992.2h12.4v2.7h-12.4ZM1805.6 1200.7h12.4v2.7h-12.4ZM1844.2 1992.2h12.4v2.7h-12.4ZM1844.2 1200.7h12.4v2.7h-12.4ZM1921.4 1992.2h12.4v2.7h-12.4ZM1921.4 1200.7h12.4v2.7h-12.4ZM1960 1992.2h12.4v2.7h-12.4ZM1960 1200.7h12.4v2.7h-12.4ZM1998.6 1992.2h12.4v2.7h-12.4ZM1998.6 1200.7h12.4v2.7h-12.4ZM2037.2 1992.2h12.4v2.7h-12.4ZM2037.2 1200.7h12.4v2.7h-12.4ZM1298.9 1944.48h2.7v12.4h-2.7ZM2089.9 1944.48h2.7v12.4h-2.7ZM1298.9 1911.56h2.7v12.4h-2.7ZM2089.9 1911.56h2.7v12.4h-2.7ZM1298.9 1878.64h2.7v12.4h-2.7ZM2089.9 1878.64h2.7v12.4h-2.7ZM1298.9 1845.72h2.7v12.4h-2.7ZM2089.9 1845.72h2.7v12.4h-2.7ZM1298.9 1779.88h2.7v12.4h-2.7ZM2089.9 1779.88h2.7v12.4h-2.7ZM1298.9 1746.96h2.7v12.4h-2.7ZM2089.9 1746.96h2.7v12.4h-2.7ZM1298.9 1714.04h2.7v12.4h-2.7ZM2089.9 1714.04h2.7v12.4h-2.7ZM1298.9 1681.12h2.7v12.4h-2.7ZM2089.9 1681.12h2.7v12.4h-2.7ZM1298.9 1615.28h2.7v12.4h-2.7ZM2089.9 1615.28h2.7v12.4h-2.7ZM1298.9 1582.36h2.7v12.4h-2.7ZM2089.9 1582.36h2.7v12.4h-2.7ZM1298.9 1549.44h2.7v12.4h-2.7ZM2089.9 1549.44h2.7v12.4h-2.7ZM1298.9 1516.52h2.7v12.4h-2.7ZM2089.9 1516.52h2.7v12.4h-2.7ZM1298.9 1450.68h2.7v12.4h-2.7ZM2089.9 1450.68h2.7v12.4h-2.7ZM1298.9 1417.76h2.7v12.4h-2.7ZM2089.9 1417.76h2.7v12.4h-2.7ZM1298.9 1384.84h2.7v12.4h-2.7ZM2089.9 1384.84h2.7v12.4h-2.7ZM1298.9 1351.92h2.7v12.4h-2.7ZM2089.9 1351.92h2.7v12.4h-2.7ZM1298.9 1286.08h2.7v12.4h-2.7ZM2089.9 1286.08h2.7v12.4h-2.7ZM1298.9 1253.16h2.7v12.4h-2.7ZM2089.9 1253.16h2.7v12.4h-2.7ZM1298.9 1220.24h2.7v12.4h-2.7ZM2089.9 1220.24h2.7v12.4h-2.7Z" fill="#ff0000"/>
<text x="1279.34" y="1996.87" text-anchor="end" class="t" style="font-size:39.6px">0.0000</text>
<text x="1279.34" y="1832.27" text-anchor="end" class="t" style="font-size:39.6px">0.0001</text>
<text x="1279.34" y="1667.67" text-anchor="end" class="t" style="font-size:39.6px">0.0002</text>
<text x="1279.34" y="1503.07" text-anchor="end" class="t" style="font-size:39.6px">0.0003</text>
<text x="1279.34" y="1338.47" text-anchor="end" class="t" style="font-size:39.6px">0.0004</text>
<text x="1310" y="2051.6" text-anchor="middle" class="t" style="font-size:39.6px">−1.0</text>
<text x="1503" y="2051.6" text-anchor="middle" class="t" style="font-size:39.6px">−0.5</text>
<text x="1696" y="2051.6" text-anchor="middle" class="t" style="font-size:39.6px">0.0</text>
<text x="1889" y="2051.6" text-anchor="middle" class="t" style="font-size:39.6px">0.5</text>
<text x="2082" y="2051.6" text-anchor="middle" class="t" style="font-size:39.6px">1.0</text>
<text x="1696" y="2129.3" text-anchor="middle" class="t" style="font-size:39.6px">xs/f</text>
<text transform="translate(1120.7,1598.4) rotate(-90)" text-anchor="middle" class="t" style="font-size:39.6px">Brightness</text>
<path d="M1310.00 1234.18C1325.63 1285.27 1325.70 1935.00 1342.40 1935.00C1347.34 1935.00 1351.06 1915.00 1356.00 1915.00C1362.48 1915.00 1367.39 1968.20 1373.90 1968.20C1379.71 1968.20 1384.09 1954.70 1389.90 1954.70C1396.14 1954.70 1400.86 1976.40 1407.10 1976.40C1412.94 1976.40 1417.36 1967.00 1423.20 1967.00C1429.44 1967.00 1434.16 1979.30 1440.40 1979.30C1446.21 1979.30 1450.59 1970.20 1456.40 1970.20C1462.64 1970.20 1467.36 1980.50 1473.60 1980.50C1479.44 1980.50 1483.86 1971.90 1489.70 1971.90C1495.94 1971.90 1500.66 1981.30 1506.90 1981.30C1512.71 1981.30 1517.09 1972.40 1522.90 1972.40C1529.14 1972.40 1533.86 1981.80 1540.10 1981.80C1545.94 1981.80 1550.36 1972.40 1556.20 1972.40C1562.01 1972.40 1566.39 1981.80 1572.20 1981.80C1578.01 1981.80 1582.39 1970.70 1588.20 1970.70C1594.44 1970.70 1599.16 1981.80 1605.40 1981.80C1611.21 1981.80 1615.59 1967.00 1621.40 1967.00C1627.21 1967.00 1631.59 1983.00 1637.40 1983.00C1644.51 1983.00 1649.89 1954.70 1657.00 1954.70C1662.26 1954.70 1666.24 1983.00 1671.50 1983.00C1677.69 1983.00 1684.12 1846.09 1696.00 1814.00C1707.88 1846.09 1714.31 1983.00 1720.50 1983.00C1725.76 1983.00 1729.74 1954.70 1735.00 1954.70C1742.11 1954.70 1747.49 1983.00 1754.60 1983.00C1760.41 1983.00 1764.79 1967.00 1770.60 1967.00C1776.41 1967.00 1780.79 1981.80 1786.60 1981.80C1792.84 1981.80 1797.56 1970.70 1803.80 1970.70C1809.61 1970.70 1813.99 1981.80 1819.80 1981.80C1825.61 1981.80 1829.99 1972.40 1835.80 1972.40C1841.64 1972.40 1846.06 1981.80 1851.90 1981.80C1858.14 1981.80 1862.86 1972.40 1869.10 1972.40C1874.91 1972.40 1879.29 1981.30 1885.10 1981.30C1891.34 1981.30 1896.06 1971.90 1902.30 1971.90C1908.14 1971.90 1912.56 1980.50 1918.40 1980.50C1924.64 1980.50 1929.36 1970.20 1935.60 1970.20C1941.41 1970.20 1945.79 1979.30 1951.60 1979.30C1957.84 1979.30 1962.56 1967.00 1968.80 1967.00C1974.64 1967.00 1979.06 1976.40 1984.90 1976.40C1991.14 1976.40 1995.86 1954.70 2002.10 1954.70C2007.91 1954.70 2012.29 1968.20 2018.10 1968.20C2024.61 1968.20 2029.52 1915.00 2036.00 1915.00C2040.94 1915.00 2044.66 1935.00 2049.60 1935.00C2066.30 1935.00 2066.37 1285.27 2082.00 1234.18" fill="none" stroke="#0000ff" stroke-width="6.8" stroke-linejoin="miter" stroke-miterlimit="10"/>
<path transform="translate(1430.4,2268.5)" d="M17.4 -55.5C6.5 -45.5 0 -33 0 -18.6C0 -4.2 6.5 8.3 17.4 18.3L19.0 17.0C10.5 7.5 5.2 -4.7 5.2 -18.6C5.2 -32.5 10.5 -44.7 19.0 -54.2Z"/>
<path transform="translate(1508.7,2268.5) scale(-1,1)" d="M17.4 -55.5C6.5 -45.5 0 -33 0 -18.6C0 -4.2 6.5 8.3 17.4 18.3L19.0 17.0C10.5 7.5 5.2 -4.7 5.2 -18.6C5.2 -32.5 10.5 -44.7 19.0 -54.2Z"/>
<text x="1451.84" y="2268.5" class="s" font-size="76">e</text>
<g transform="translate(1547.2,2268.5)"><path d="M9.04 -31.87C8.41 -31.23 6.26 -29.56 5.27 -27.99C4.27 -26.42 3.60 -24.30 3.05 -22.45C2.49 -20.60 2.16 -18.75 1.94 -16.91C1.72 -15.06 1.49 -13.21 1.72 -11.36C1.95 -9.52 2.09 -7.32 3.33 -5.82C4.56 -4.32 7.25 -2.59 9.15 -2.38C11.04 -2.18 13.21 -3.61 14.69 -4.60C16.17 -5.59 17.17 -7.10 18.02 -8.31C18.87 -9.53 19.49 -11.32 19.79 -11.92M23.12 -21.62C23.02 -21.20 22.81 -20.19 22.56 -19.12C22.31 -18.06 21.93 -16.63 21.62 -15.24C21.30 -13.86 20.89 -12.15 20.68 -10.81C20.46 -9.47 20.09 -8.41 20.34 -7.21C20.59 -6.01 21.13 -4.41 22.17 -3.60C23.22 -2.80 24.99 -2.38 26.61 -2.38C28.22 -2.38 30.26 -2.75 31.87 -3.60C33.49 -4.45 35.03 -5.82 36.31 -7.48C37.58 -9.15 38.66 -11.55 39.52 -13.58C40.38 -15.61 41.00 -17.74 41.46 -19.68C41.93 -21.62 42.25 -23.74 42.29 -25.22C42.34 -26.70 41.83 -27.99 41.74 -28.55" fill="none" stroke="#000" stroke-width="4.2" stroke-linecap="round" stroke-linejoin="round"/><circle cx="40.74" cy="-30.1" r="2.9"/></g>
<path d="M1561.6 2227L1571.3 2218.5L1581 2227" fill="none" stroke="#000" stroke-width="2.5"/>
<rect x="1621.2" y="2240.5" width="51" height="3.6"/>
<rect x="1621.2" y="2255.5" width="51" height="3.6"/>
<text x="1696.83" y="2268.5" class="s" font-size="76">60</text>
<path d="M2406.2 1198.5H3206.9V1998.8H2406.2Z M2418.6 1210.8V1987H3194.6V1210.8Z" fill="#ff0000" fill-rule="evenodd"/>
<path d="M2421.8 1981h12.4v7h-12.4ZM2421.8 1209.8h12.4v7h-12.4ZM2611.1 1981h12.4v7h-12.4ZM2611.1 1209.8h12.4v7h-12.4ZM2800.4 1981h12.4v7h-12.4ZM2800.4 1209.8h12.4v7h-12.4ZM2989.7 1981h12.4v7h-12.4ZM2989.7 1209.8h12.4v7h-12.4ZM3179 1981h12.4v7h-12.4ZM3179 1209.8h12.4v7h-12.4ZM2417.6 1971h7v12.4h-7ZM3188.6 1971h7v12.4h-7ZM2417.6 1847.8h7v12.4h-7ZM3188.6 1847.8h7v12.4h-7ZM2417.6 1724.6h7v12.4h-7ZM3188.6 1724.6h7v12.4h-7ZM2417.6 1601.4h7v12.4h-7ZM3188.6 1601.4h7v12.4h-7ZM2417.6 1478.2h7v12.4h-7ZM3188.6 1478.2h7v12.4h-7ZM2417.6 1355h7v12.4h-7ZM3188.6 1355h7v12.4h-7ZM2417.6 1231.8h7v12.4h-7ZM3188.6 1231.8h7v12.4h-7ZM2459.66 1985.3h12.4v2.7h-12.4ZM2459.66 1209.8h12.4v2.7h-12.4ZM2497.52 1985.3h12.4v2.7h-12.4ZM2497.52 1209.8h12.4v2.7h-12.4ZM2535.38 1985.3h12.4v2.7h-12.4ZM2535.38 1209.8h12.4v2.7h-12.4ZM2573.24 1985.3h12.4v2.7h-12.4ZM2573.24 1209.8h12.4v2.7h-12.4ZM2648.96 1985.3h12.4v2.7h-12.4ZM2648.96 1209.8h12.4v2.7h-12.4ZM2686.82 1985.3h12.4v2.7h-12.4ZM2686.82 1209.8h12.4v2.7h-12.4ZM2724.68 1985.3h12.4v2.7h-12.4ZM2724.68 1209.8h12.4v2.7h-12.4ZM2762.54 1985.3h12.4v2.7h-12.4ZM2762.54 1209.8h12.4v2.7h-12.4ZM2838.26 1985.3h12.4v2.7h-12.4ZM2838.26 1209.8h12.4v2.7h-12.4ZM2876.12 1985.3h12.4v2.7h-12.4ZM2876.12 1209.8h12.4v2.7h-12.4ZM2913.98 1985.3h12.4v2.7h-12.4ZM2913.98 1209.8h12.4v2.7h-12.4ZM2951.84 1985.3h12.4v2.7h-12.4ZM2951.84 1209.8h12.4v2.7h-12.4ZM3027.56 1985.3h12.4v2.7h-12.4ZM3027.56 1209.8h12.4v2.7h-12.4ZM3065.42 1985.3h12.4v2.7h-12.4ZM3065.42 1209.8h12.4v2.7h-12.4ZM3103.28 1985.3h12.4v2.7h-12.4ZM3103.28 1209.8h12.4v2.7h-12.4ZM3141.14 1985.3h12.4v2.7h-12.4ZM3141.14 1209.8h12.4v2.7h-12.4ZM2417.6 1940.2h2.7v12.4h-2.7ZM3192.9 1940.2h2.7v12.4h-2.7ZM2417.6 1909.4h2.7v12.4h-2.7ZM3192.9 1909.4h2.7v12.4h-2.7ZM2417.6 1878.6h2.7v12.4h-2.7ZM3192.9 1878.6h2.7v12.4h-2.7ZM2417.6 1817h2.7v12.4h-2.7ZM3192.9 1817h2.7v12.4h-2.7ZM2417.6 1786.2h2.7v12.4h-2.7ZM3192.9 1786.2h2.7v12.4h-2.7ZM2417.6 1755.4h2.7v12.4h-2.7ZM3192.9 1755.4h2.7v12.4h-2.7ZM2417.6 1693.8h2.7v12.4h-2.7ZM3192.9 1693.8h2.7v12.4h-2.7ZM2417.6 1663h2.7v12.4h-2.7ZM3192.9 1663h2.7v12.4h-2.7ZM2417.6 1632.2h2.7v12.4h-2.7ZM3192.9 1632.2h2.7v12.4h-2.7ZM2417.6 1570.6h2.7v12.4h-2.7ZM3192.9 1570.6h2.7v12.4h-2.7ZM2417.6 1539.8h2.7v12.4h-2.7ZM3192.9 1539.8h2.7v12.4h-2.7ZM2417.6 1509h2.7v12.4h-2.7ZM3192.9 1509h2.7v12.4h-2.7ZM2417.6 1447.4h2.7v12.4h-2.7ZM3192.9 1447.4h2.7v12.4h-2.7ZM2417.6 1416.6h2.7v12.4h-2.7ZM3192.9 1416.6h2.7v12.4h-2.7ZM2417.6 1385.8h2.7v12.4h-2.7ZM3192.9 1385.8h2.7v12.4h-2.7ZM2417.6 1324.2h2.7v12.4h-2.7ZM3192.9 1324.2h2.7v12.4h-2.7ZM2417.6 1293.4h2.7v12.4h-2.7ZM3192.9 1293.4h2.7v12.4h-2.7ZM2417.6 1262.6h2.7v12.4h-2.7ZM3192.9 1262.6h2.7v12.4h-2.7Z" fill="#ff0000"/>
<text x="2397.81" y="1991" text-anchor="end" class="t" style="font-size:41.2px">0.000000</text>
<text x="2235.2" y="1867" class="t" style="font-size:41.2px">2.</text>
<text x="2277.7" y="1868.5" class="t" style="font-size:38px">×</text>
<text x="2305.2" y="1867" class="t" style="font-size:41.2px">10</text>
<text x="2350.1" y="1850.6" class="t" style="font-size:38px">−6</text>
<text x="2235.2" y="1743.8" class="t" style="font-size:41.2px">4.</text>
<text x="2277.7" y="1745.3" class="t" style="font-size:38px">×</text>
<text x="2305.2" y="1743.8" class="t" style="font-size:41.2px">10</text>
<text x="2350.1" y="1727.4" class="t" style="font-size:38px">−6</text>
<text x="2235.2" y="1620.6" class="t" style="font-size:41.2px">6.</text>
<text x="2277.7" y="1622.1" class="t" style="font-size:38px">×</text>
<text x="2305.2" y="1620.6" class="t" style="font-size:41.2px">10</text>
<text x="2350.1" y="1604.2" class="t" style="font-size:38px">−6</text>
<text x="2235.2" y="1497.4" class="t" style="font-size:41.2px">8.</text>
<text x="2277.7" y="1498.9" class="t" style="font-size:38px">×</text>
<text x="2305.2" y="1497.4" class="t" style="font-size:41.2px">10</text>
<text x="2350.1" y="1481" class="t" style="font-size:38px">−6</text>
<text x="2397.81" y="1375" text-anchor="end" class="t" style="font-size:41.2px">0.000010</text>
<text x="2397.81" y="1251.8" text-anchor="end" class="t" style="font-size:41.2px">0.000012</text>
<text x="2428" y="2046.5" text-anchor="middle" class="t" style="font-size:41.2px">−1.0</text>
<text x="2617.3" y="2046.5" text-anchor="middle" class="t" style="font-size:41.2px">−0.5</text>
<text x="2806.6" y="2046.5" text-anchor="middle" class="t" style="font-size:41.2px">0.0</text>
<text x="2995.9" y="2046.5" text-anchor="middle" class="t" style="font-size:41.2px">0.5</text>
<text x="3185.2" y="2046.5" text-anchor="middle" class="t" style="font-size:41.2px">1.0</text>
<text x="2806.6" y="2127.6" text-anchor="middle" class="t" style="font-size:41.2px">xs/f</text>
<text transform="translate(2186.7,1599) rotate(-90)" text-anchor="middle" class="t" style="font-size:41.2px">Brightness</text>
<path d="M2428.00 1247.05C2429.45 1244.16 2431.07 1242.00 2433.00 1242.00C2439.68 1242.00 2444.62 1927.60 2458.10 1927.60C2462.06 1927.60 2465.04 1917.50 2469.00 1917.50C2474.81 1917.50 2478.95 1959.60 2484.00 1959.60C2488.46 1959.60 2491.84 1954.70 2496.30 1954.70C2501.85 1954.70 2506.05 1967.00 2511.60 1967.00C2515.88 1967.00 2519.12 1964.00 2523.40 1964.00C2528.95 1964.00 2533.15 1970.70 2538.70 1970.70C2543.16 1970.70 2546.54 1967.70 2551.00 1967.70C2556.37 1967.70 2560.43 1972.40 2565.80 1972.40C2570.26 1972.40 2573.64 1969.50 2578.10 1969.50C2583.47 1969.50 2587.53 1973.20 2592.90 1973.20C2597.36 1973.20 2600.74 1970.20 2605.20 1970.20C2610.57 1970.20 2614.63 1973.90 2620.00 1973.90C2624.90 1973.90 2628.60 1970.70 2633.50 1970.70C2638.44 1970.70 2642.16 1973.90 2647.10 1973.90C2652.00 1973.90 2655.70 1970.20 2660.60 1970.20C2665.97 1970.20 2670.03 1973.90 2675.40 1973.90C2680.30 1973.90 2684.00 1969.50 2688.90 1969.50C2693.84 1969.50 2697.56 1974.40 2702.50 1974.40C2707.40 1974.40 2711.10 1968.20 2716.00 1968.20C2721.19 1968.20 2725.11 1974.40 2730.30 1974.40C2735.42 1974.40 2739.28 1965.80 2744.40 1965.80C2749.30 1965.80 2753.00 1974.90 2757.90 1974.90C2763.74 1974.90 2768.16 1959.60 2774.00 1959.60C2778.36 1959.60 2781.64 1975.60 2786.00 1975.60C2796.52 1975.60 2794.37 1886.85 2806.60 1873.40C2818.83 1886.85 2816.68 1975.60 2827.20 1975.60C2831.56 1975.60 2834.84 1959.60 2839.20 1959.60C2845.04 1959.60 2849.46 1974.90 2855.30 1974.90C2860.20 1974.90 2863.90 1965.80 2868.80 1965.80C2873.92 1965.80 2877.78 1974.40 2882.90 1974.40C2888.09 1974.40 2892.01 1968.20 2897.20 1968.20C2902.10 1968.20 2905.80 1974.40 2910.70 1974.40C2915.64 1974.40 2919.36 1969.50 2924.30 1969.50C2929.20 1969.50 2932.90 1973.90 2937.80 1973.90C2943.17 1973.90 2947.23 1970.20 2952.60 1970.20C2957.50 1970.20 2961.20 1973.90 2966.10 1973.90C2971.04 1973.90 2974.76 1970.70 2979.70 1970.70C2984.60 1970.70 2988.30 1973.90 2993.20 1973.90C2998.57 1973.90 3002.63 1970.20 3008.00 1970.20C3012.46 1970.20 3015.84 1973.20 3020.30 1973.20C3025.67 1973.20 3029.73 1969.50 3035.10 1969.50C3039.56 1969.50 3042.94 1972.40 3047.40 1972.40C3052.77 1972.40 3056.83 1967.70 3062.20 1967.70C3066.66 1967.70 3070.04 1970.70 3074.50 1970.70C3080.05 1970.70 3084.25 1964.00 3089.80 1964.00C3094.08 1964.00 3097.32 1967.00 3101.60 1967.00C3107.15 1967.00 3111.35 1954.70 3116.90 1954.70C3121.36 1954.70 3124.74 1959.60 3129.20 1959.60C3134.25 1959.60 3138.39 1917.50 3144.20 1917.50C3148.16 1917.50 3151.14 1927.60 3155.10 1927.60C3168.58 1927.60 3173.52 1242.00 3180.20 1242.00C3182.13 1242.00 3183.75 1244.16 3185.20 1247.05" fill="none" stroke="#0000ff" stroke-width="6.8" stroke-linejoin="miter" stroke-miterlimit="10"/>
<path transform="translate(2517.5,2268.5)" d="M17.4 -55.5C6.5 -45.5 0 -33 0 -18.6C0 -4.2 6.5 8.3 17.4 18.3L19.0 17.0C10.5 7.5 5.2 -4.7 5.2 -18.6C5.2 -32.5 10.5 -44.7 19.0 -54.2Z"/>
<path transform="translate(2591.2,2268.5) scale(-1,1)" d="M17.4 -55.5C6.5 -45.5 0 -33 0 -18.6C0 -4.2 6.5 8.3 17.4 18.3L19.0 17.0C10.5 7.5 5.2 -4.7 5.2 -18.6C5.2 -32.5 10.5 -44.7 19.0 -54.2Z"/>
<text x="2539.24" y="2268.5" class="s" font-size="76">f</text>
<g transform="translate(2629,2268.5)"><path d="M9.04 -31.87C8.41 -31.23 6.26 -29.56 5.27 -27.99C4.27 -26.42 3.60 -24.30 3.05 -22.45C2.49 -20.60 2.16 -18.75 1.94 -16.91C1.72 -15.06 1.49 -13.21 1.72 -11.36C1.95 -9.52 2.09 -7.32 3.33 -5.82C4.56 -4.32 7.25 -2.59 9.15 -2.38C11.04 -2.18 13.21 -3.61 14.69 -4.60C16.17 -5.59 17.17 -7.10 18.02 -8.31C18.87 -9.53 19.49 -11.32 19.79 -11.92M23.12 -21.62C23.02 -21.20 22.81 -20.19 22.56 -19.12C22.31 -18.06 21.93 -16.63 21.62 -15.24C21.30 -13.86 20.89 -12.15 20.68 -10.81C20.46 -9.47 20.09 -8.41 20.34 -7.21C20.59 -6.01 21.13 -4.41 22.17 -3.60C23.22 -2.80 24.99 -2.38 26.61 -2.38C28.22 -2.38 30.26 -2.75 31.87 -3.60C33.49 -4.45 35.03 -5.82 36.31 -7.48C37.58 -9.15 38.66 -11.55 39.52 -13.58C40.38 -15.61 41.00 -17.74 41.46 -19.68C41.93 -21.62 42.25 -23.74 42.29 -25.22C42.34 -26.70 41.83 -27.99 41.74 -28.55" fill="none" stroke="#000" stroke-width="4.2" stroke-linecap="round" stroke-linejoin="round"/><circle cx="40.74" cy="-30.1" r="2.9"/></g>
<path d="M2643.4 2227L2653.1 2218.5L2662.8 2227" fill="none" stroke="#000" stroke-width="2.5"/>
<rect x="2703.2" y="2240.5" width="50.8" height="3.6"/>
<rect x="2703.2" y="2255.5" width="50.8" height="3.6"/>
<text x="2776.98" y="2268.5" class="s" font-size="76">70</text>
</svg>
</body></html>
